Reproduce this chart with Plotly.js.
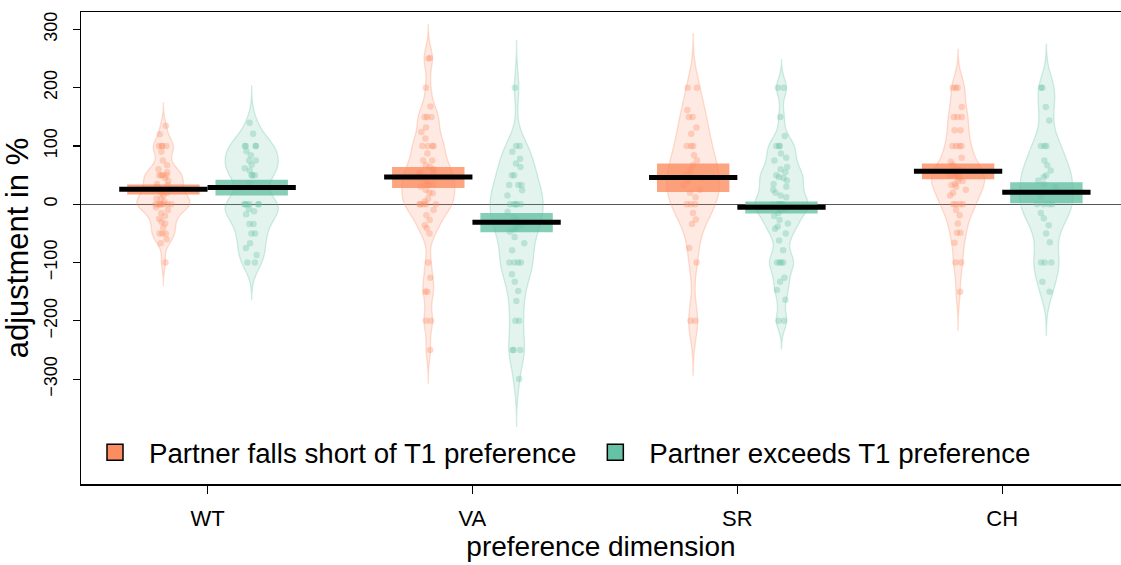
<!DOCTYPE html>
<html>
<head>
<meta charset="utf-8">
<script src="https://cdn.plot.ly/plotly-3.0.1.min.js"></script>
<style>html,body{margin:0;padding:0;background:#fff;}#chart{width:1121px;height:565px;}</style>
</head>
<body>
<div id="chart"></div>
<script>
// ---- data ----
var categories = ["WT", "VA", "SR", "CH"];
var groupNames = ["Partner falls short of T1 preference", "Partner exceeds T1 preference"];

// individual adjustments (%), group "falls short"
var wtShort = [135,120,100,100,100,100,90,75,67,60,55,50,50,50,50,45,40,35,33,30,25,25,20,20,15,10,10,5,0,0,0,0,0,0,0,-5,-10,-15,-20,-25,-30,-33,-40,-50,-50,-50,-60,-67,-100];
var vaShort = [251,250,200,168,150,150,150,132,124,113,100,100,100,100,87,75,75,67,64,60,55,53,50,45,40,35,35,33,30,25,20,19,10,5,0,0,0,0,0,-10,-19,-27,-36,-41,-50,-100,-126,-150,-150,-200,-200,-250];
var srShort = [200,200,162,150,150,132,121,100,100,100,84,75,67,58,50,47,45,40,33,25,20,12,0,0,0,-15,-26,-34,-75,-100,-200,-200];
var chShort = [200,200,200,167,150,150,150,127,127,100,100,100,100,80,73,67,60,58,55,50,50,50,45,40,40,35,33,30,25,20,15,0,0,0,0,-10,-19,-33,-49,-49,-66,-100,-100,-150];

// individual adjustments (%), group "exceeds"
var wtExceed = [140,121,100,100,100,100,91,84,75,75,68,62,58,50,50,50,36,0,0,0,0,0,0,-8,-12,-17,-34,-34,-50,-50,-67,-75,-87,-100,-100];
var vaExceed = [200,100,100,90,78,70,64,50,50,33,33,33,24,15,0,0,0,0,0,-13,-22,-27,-36,-40,-43,-47,-56,-67,-79,-100,-100,-100,-100,-120,-133,-149,-166,-200,-200,-250,-250,-250,-300];
var srExceed = [200,200,150,117,100,100,100,87,80,75,64,60,55,50,47,45,41,35,30,25,20,15,12,0,0,0,0,0,-7,-10,-15,-20,-27,-33,-38,-42,-50,-62,-79,-100,-100,-100,-100,-126,-133,-147,-164,-200,-200];
var chExceed = [200,200,167,144,100,100,100,75,67,58,50,47,41,35,30,13,0,0,0,0,-15,-24,-36,-50,-65,-100,-100,-100,-133,-150];

// group means and inference bands (%)
var meanShort = [26, 47, 46, 56.5];
var meanExceed = [29, -31, -5, 20.5];
var ciLowShort = [17, 28, 21, 43];
var ciHighShort = [34, 64, 70, 70];
var ciLowExceed = [15, -48, -16, 2];
var ciHighExceed = [42, -15, 5, 38];

// kernel bandwidths estimated from the drawn densities
var bwShort = [13, 19, 31, 22];
var bwExceed = [21, 27, 16, 25];

// ---- build ----
var orangeRGB = "252,141,98", tealRGB = "102,194,165";
var shortSets = [wtShort, vaShort, srShort, chShort];
var exceedSets = [wtExceed, vaExceed, srExceed, chExceed];
function posShort(i){ return 3*i + 1; }
function posExceed(i){ return 3*i + 2; }

function violinTrace(vals, pos, bw, rgb){
  var lo = Math.min.apply(null, vals), hi = Math.max.apply(null, vals);
  return {
    type: "violin", x: vals.map(function(){ return pos; }), y: vals, showlegend: false,
    points: "all", pointpos: 0, jitter: 0.4,
    marker: {size: 6.5, color: "rgba(" + rgb + ",0.33)", line: {width: 0}},
    fillcolor: "rgba(" + rgb + ",0.18)",
    line: {color: "rgba(" + rgb + ",0.30)", width: 1.3},
    width: 0.6, scalemode: "width", bandwidth: bw,
    spanmode: "manual", span: [lo - 3*bw, hi + 3*bw],
    box: {visible: false}, meanline: {visible: false}, hoverinfo: "skip"
  };
}

var traces = [];
shortSets.forEach(function(v, i){ traces.push(violinTrace(v, posShort(i), bwShort[i], orangeRGB)); });
exceedSets.forEach(function(v, i){ traces.push(violinTrace(v, posExceed(i), bwExceed[i], tealRGB)); });

function barTrace(posFn, lo, hi, rgb){
  return {
    type: "bar", x: categories.map(function(c,i){return posFn(i);}),
    base: lo, y: hi.map(function(h,i){return h - lo[i];}),
    width: 0.82, marker: {color: "rgba(" + rgb + ",0.8)", line: {width: 0}},
    showlegend: false, hoverinfo: "skip"
  };
}
traces.push(barTrace(posShort, ciLowShort, ciHighShort, orangeRGB));
traces.push(barTrace(posExceed, ciLowExceed, ciHighExceed, tealRGB));

function meanTrace(posFn, means){
  var x = [], y = [];
  means.forEach(function(m, i){ x.push(posFn(i) - 0.5, posFn(i) + 0.5, null); y.push(m, m, null); });
  return {type: "scatter", mode: "lines", x: x, y: y, line: {color: "#000", width: 5},
          showlegend: false, hoverinfo: "skip"};
}
traces.push(meanTrace(posShort, meanShort));
traces.push(meanTrace(posExceed, meanExceed));

// legend entries
traces.push({type: "scatter", mode: "markers", x: [null], y: [null], name: groupNames[0],
  marker: {symbol: "square", size: 20, color: "#FC8D62", line: {color: "#000", width: 1.5}}});
traces.push({type: "scatter", mode: "markers", x: [null], y: [null], name: groupNames[1],
  marker: {symbol: "square", size: 20, color: "#66C2A5", line: {color: "#000", width: 1.5}}});

var layout = {
  width: 1121, height: 565,
  margin: {l: 81, r: 0, t: 11.5, b: 81},
  paper_bgcolor: "#fff", plot_bgcolor: "#fff",
  font: {family: "Liberation Sans, Arial, sans-serif", color: "#000"},
  violinmode: "overlay", barmode: "overlay",
  showlegend: true,
  legend: {orientation: "h", x: 0, y: 0.066, xanchor: "left", yanchor: "middle",
           font: {size: 27.7}, bgcolor: "rgba(0,0,0,0)", itemwidth: 58, traceorder: "normal"},
  xaxis: {
    range: [0.067, 11.845], tickmode: "array",
    tickvals: categories.map(function(c,i){return 3*i + 1.5;}), ticktext: categories,
    showline: true, mirror: true, linecolor: "#000", linewidth: 1.5,
    ticks: "outside", ticklen: 8, tickwidth: 1.2, tickcolor: "#000", ticklabelstandoff: 6,
    showgrid: false, zeroline: false, tickfont: {size: 22},
    title: {text: "preference dimension", font: {size: 28}, standoff: 6}
  },
  yaxis: {
    range: [-480, 330], tickmode: "array", tickvals: [-300,-200,-100,0,100,200,300],
    showline: true, mirror: false, linecolor: "#000", linewidth: 1.5,
    ticks: "outside", ticklen: 7, tickwidth: 1.2, tickcolor: "#000", ticklabelstandoff: 8,
    tickangle: -90, tickfont: {size: 18},
    showgrid: false, zeroline: true, zerolinecolor: "#555", zerolinewidth: 1,
    title: {text: "adjustment in %", font: {size: 31}, standoff: 4}
  }
};

Plotly.newPlot("chart", traces, layout, {displayModeBar: false, staticPlot: true});
</script>
</body>
</html>
